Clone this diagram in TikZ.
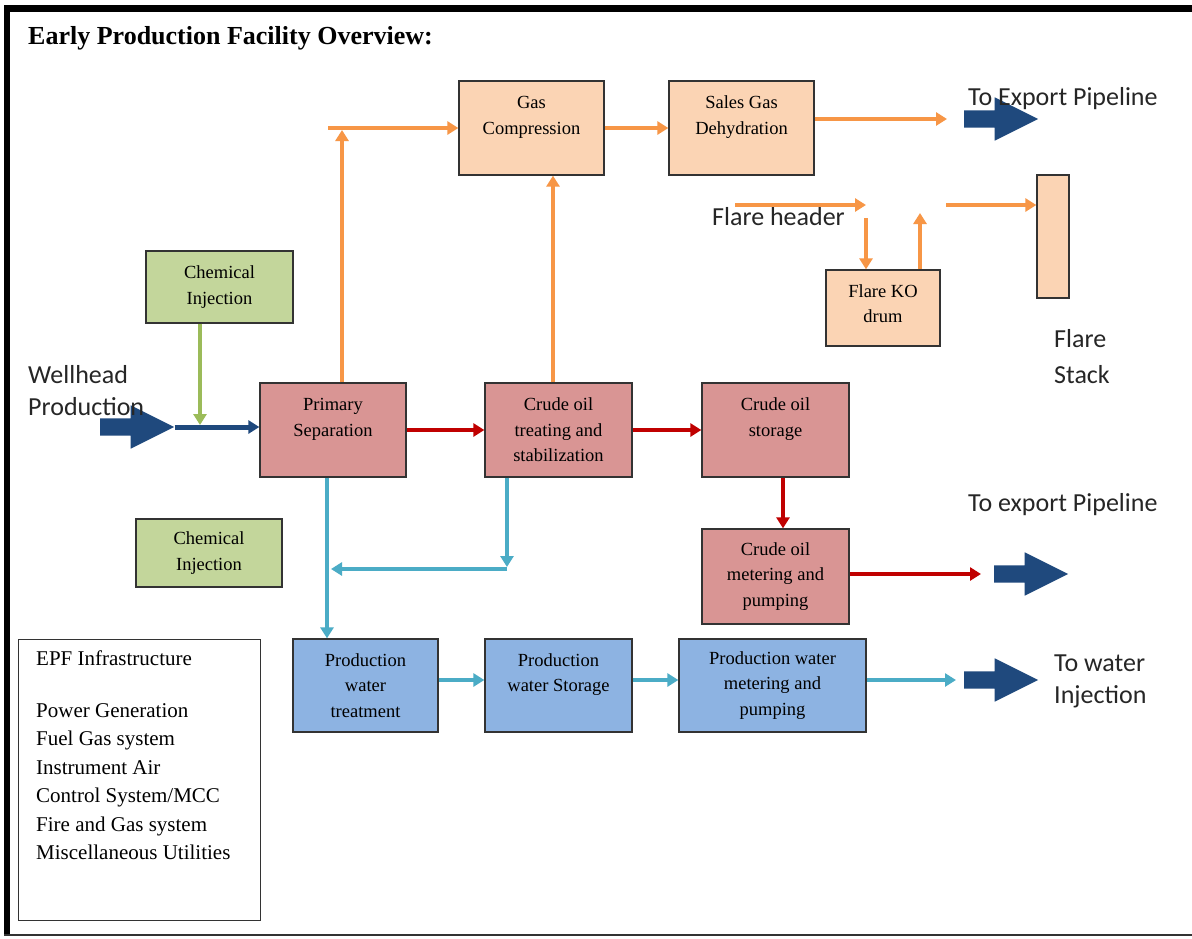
\documentclass[tikz,border=0pt]{standalone}
\usepackage{fontspec}
\setmainfont{Liberation Serif}
\newfontfamily\calibri{Carlito}
\usetikzlibrary{arrows.meta,shapes.arrows}

\definecolor{peach}{HTML}{FBD4B4}
\definecolor{rose}{HTML}{D99594}
\definecolor{skyblue}{HTML}{8DB3E2}
\definecolor{sage}{HTML}{C3D69B}
\definecolor{gasline}{HTML}{F79646}
\definecolor{oilline}{HTML}{C00000}
\definecolor{waterline}{HTML}{4BACC6}
\definecolor{chemline}{HTML}{9BBB59}
\definecolor{navy}{HTML}{1F497D}

\begin{document}
\begin{tikzpicture}[x=1pt,y=-1pt,>={Triangle[length=11pt,width=13pt]},
    unit node/.style={rectangle,draw=black!80,line width=1.3pt,align=center,inner sep=2pt,
                      font=\fontsize{18.5}{25.5}\selectfont},
    gas node/.style={unit node,fill=peach},
    oil node/.style={unit node,fill=rose},
    water node/.style={unit node,fill=skyblue},
    chem node/.style={unit node,fill=sage},
    big arrow/.style={single arrow,fill=navy,inner xsep=0pt,inner ysep=8.5pt,minimum height=74pt,anchor=tail,
                      single arrow head extend=13pt,single arrow tip angle=53,single arrow head indent=0pt},
    side text/.style={font=\calibri\fontsize{26}{32}\selectfont,align=left,text=black!85,inner sep=0pt},
    gas flow/.style={->,draw=gasline,line width=4pt},
    oil flow/.style={->,draw=oilline,line width=4pt},
    water flow/.style={->,draw=waterline,line width=4pt},
    chem flow/.style={->,draw=chemline,line width=4pt},
    well flow/.style={->,draw=navy,line width=5pt}]
  \useasboundingbox (0,0) rectangle (1192,938);
  \fill[white] (0,0) rectangle (1192,938);
  \fill[black] (4,5) rectangle (1192,12);
  \fill[black] (4,5) rectangle (10,936);
  \draw[black!80,line width=2pt] (4,935) -- (1192,935);

  \node[anchor=west,inner sep=0pt,font=\bfseries\fontsize{26}{30}\selectfont] (title) at (28,38) {Early Production Facility Overview:};

  \node[gas node,minimum width=145pt,minimum height=94pt] (gas) at (531.5,128) {Gas\\Compression\\\mbox{}};
  \node[gas node,minimum width=145pt,minimum height=94pt] (sales) at (741.5,128) {Sales Gas\\Dehydration\\\mbox{}};
  \node[gas node,minimum width=114pt,minimum height=76pt] (ko) at (883,308) {Flare KO\\drum\\[-17pt]\mbox{}};
  \node[gas node,minimum width=32pt,minimum height=123pt] (stack) at (1053,236.5) {};
  \node[chem node,minimum width=147pt,minimum height=72pt] (chemA) at (219.5,287) {Chemical\\Injection};
  \node[oil node,minimum width=146pt,minimum height=94pt] (sep) at (333,430) {Primary\\Separation\\\mbox{}};
  \node[oil node,minimum width=147pt,minimum height=94pt] (treat) at (558.5,430) {Crude oil\\treating and\\stabilization};
  \node[oil node,minimum width=147pt,minimum height=94pt] (store) at (775.5,430) {Crude oil\\storage\\\mbox{}};
  \node[oil node,minimum width=147pt,minimum height=95pt] (meter) at (775.5,576.5) {Crude oil\\metering and\\pumping};
  \node[chem node,minimum width=146pt,minimum height=68pt] (chemB) at (209,553) {Chemical\\Injection};
  \node[water node,minimum width=145pt,minimum height=93pt] (pwt) at (365.5,685.5) {Production\\water\\treatment};
  \node[water node,minimum width=147pt,minimum height=93pt] (pws) at (558.5,685.5) {Production\\water Storage\\\mbox{}};
  \node[water node,minimum width=187pt,minimum height=93pt] (pwm) at (772.5,685.5) {Production water\\metering and\\pumping};

  \node[draw=black!80,line width=1.3pt,fill=white,anchor=north west,minimum width=242pt,minimum height=281pt] (epf) at (18,639) {};
  \node[anchor=north west,align=left,inner sep=0pt,font=\fontsize{21}{28.5}\selectfont] (epftxt) at (36,651)
    {EPF Infrastructure\\[23pt]Power Generation\\Fuel Gas system\\Instrument Air\\Control System/MCC\\Fire and Gas system\\Miscellaneous Utilities};

  \node[big arrow] (wellarr) at (100,427) {};
  \node[big arrow] (gasexp) at (964,119) {};
  \node[big arrow] (oilexp) at (994,574) {};
  \node[big arrow] (waterinj) at (964,680) {};

  \node[side text,anchor=west] (gastxt) at (968,99) {To Export Pipeline};
  \node[side text,anchor=west] (oiltxt) at (968,505) {To export Pipeline};
  \node[side text,anchor=north west] (watertxt) at (1054,655) {To water\\Injection};
  \node[side text,anchor=north west,font=\calibri\fontsize{26}{36}\selectfont] (stacktxt) at (1054,329) {Flare\\Stack};
  \node[side text,anchor=north west] (welltxt) at (28,365) {Wellhead\\Production};
  \node[side text,anchor=west] (hdrtxt) at (712,217) {Flare header};

  \coordinate (fork) at (328,128);
  \coordinate (fhin) at (735,205);
  \coordinate (fhend) at (866,205);
  \coordinate (koup) at (920,213);
  \coordinate (fhout) at (946,205);
  \coordinate (wjoin) at (507,569);
  \coordinate (wmerge) at (331,569);

  \draw[well flow] (wellarr.tip) -- (wellarr.tip -| sep.west);
  \draw[chem flow,shorten >=2pt] ([xshift=-19.5pt]chemA.south) -- ([xshift=-19.5pt]chemA.south |- wellarr.tip);

  \draw[gas flow,shorten >=2pt] ([xshift=9pt]sep.north) -- ([xshift=9pt]sep.north |- fork);
  \draw[gas flow] (fork) -- (gas.west);
  \draw[gas flow] ([xshift=-5.5pt]treat.north) -- ([xshift=-5.5pt]treat.north |- gas.south);
  \draw[gas flow] (gas.east) -- (sales.west);
  \draw[gas flow] ([yshift=9pt]sales.east) -- ([xshift=-17pt]gasexp.tail);
  \draw[gas flow] (fhin) -- (fhend);
  \draw[gas flow] ([yshift=-13pt]fhend) -- (fhend |- ko.north);
  \draw[gas flow] ([xshift=37pt]ko.north) -- (koup);
  \draw[gas flow] (fhout) -- (fhout -| stack.west);

  \draw[oil flow] (sep.east) -- (treat.west);
  \draw[oil flow] (treat.east) -- (store.west);
  \draw[oil flow] ([xshift=7.5pt]store.south) -- ([xshift=7.5pt]store.south |- meter.north);
  \draw[oil flow] ([yshift=2.5pt]meter.east) -- ([xshift=-13pt]oilexp.tail);

  \draw[water flow] ([xshift=-6pt]sep.south) -- ([xshift=-6pt]sep.south |- pwt.north);
  \draw[water flow,shorten >=2pt] ([xshift=-51.5pt]treat.south) -- (wjoin);
  \draw[water flow] (wjoin) -- (wmerge);
  \draw[water flow] ([yshift=5.5pt]pwt.east) -- ([yshift=5.5pt]pws.west);
  \draw[water flow] ([yshift=5.5pt]pws.east) -- ([yshift=5.5pt]pwm.west);
  \draw[water flow] ([yshift=5.5pt]pwm.east) -- ([xshift=-8pt]waterinj.tail);
\end{tikzpicture}
\end{document}
